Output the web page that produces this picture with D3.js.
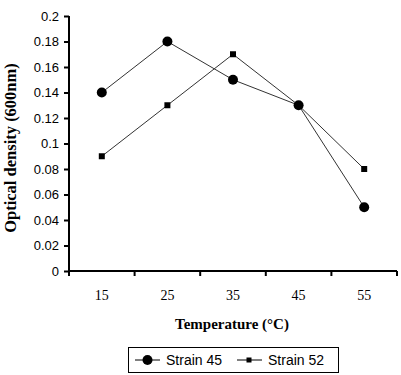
<!DOCTYPE html>
<html>
<head>
<meta charset="utf-8">
<script src="https://cdn.jsdelivr.net/npm/d3@7"></script>
<style>
body { margin: 0; background: #fff; }
</style>
</head>
<body>
<div id="chart"></div>
<script>
var width = 401;
var height = 375;

var temperatures = ['15', '25', '35', '45', '55'];
var strain45 = [0.14, 0.18, 0.15, 0.13, 0.05];
var strain52 = [0.09, 0.13, 0.17, 0.13, 0.08];
var yTicks = [0, 0.02, 0.04, 0.06, 0.08, 0.1, 0.12, 0.14, 0.16, 0.18, 0.2];

// plot area edges (note: "top" is reserved on window, so use other names)
var plotLeft = 69, plotRight = 397, plotTop = 16, plotBottom = 271;

var svg = d3.select('#chart').append('svg')
	.attr('width', width)
	.attr('height', height)

var x = d3.scaleBand().domain(temperatures).range([plotLeft, plotRight]);
var y = d3.scaleLinear().domain([0, 0.2]).range([plotBottom, plotTop]);

// y axis
var yAxis = svg.append('g')
	.attr('transform', 'translate(' + plotLeft + ',0)')
	.call(d3.axisLeft(y).tickValues(yTicks).tickSize(5).tickPadding(5).tickFormat(function(d){ return String(+d.toFixed(2)); }));
yAxis.select('.domain').attr('stroke', '#000').attr('stroke-width', 2).attr('d', 'M0,' + plotTop + 'V' + plotBottom);
yAxis.selectAll('.tick line').attr('stroke', '#000').attr('stroke-width', 2);
yAxis.selectAll('text').attr('font-family', 'Liberation Sans, Arial, sans-serif').attr('font-size', 13).attr('fill', '#000');

// x axis, ticks between categories
var xg = svg.append('g').attr('transform', 'translate(0,' + plotBottom + ')');
xg.append('line').attr('x1', plotLeft).attr('x2', plotRight).attr('stroke', '#000').attr('stroke-width', 2);
var edges = temperatures.map(function(t){ return x(t); }).concat([x.range()[1]]);
xg.selectAll('.xt').data(edges).enter().append('line')
	.attr('x1', function(d){ return d; }).attr('x2', function(d){ return d; })
	.attr('y1', 0).attr('y2', 5)
	.attr('stroke', '#000').attr('stroke-width', 2);
xg.selectAll('.xl').data(temperatures).enter().append('text')
	.attr('x', function(d){ return x(d) + x.bandwidth() / 2; })
	.attr('y', 29)
	.attr('text-anchor', 'middle')
	.attr('font-family', 'Liberation Serif, Times New Roman, serif')
	.attr('font-size', 14)
	.text(function(d){ return d; });

// titles
svg.append('text')
	.attr('x', 232).attr('y', 329)
	.attr('text-anchor', 'middle')
	.attr('font-family', 'Liberation Serif, Times New Roman, serif')
	.attr('font-weight', 'bold')
	.attr('font-size', 15)
	.text('Temperature (°C)');

svg.append('text')
	.attr('transform', 'translate(16,148) rotate(-90)')
	.attr('text-anchor', 'middle')
	.attr('font-family', 'Liberation Serif, Times New Roman, serif')
	.attr('font-weight', 'bold')
	.attr('font-size', 16.5)
	.text('Optical density (600nm)');

var cx = function(d, i){ return x(temperatures[i]) + x.bandwidth() / 2; };
var line = d3.line().x(cx).y(function(d){ return y(d); });

svg.append('path').datum(strain52).attr('d', line)
	.attr('fill', 'none').attr('stroke', '#333').attr('stroke-width', 1);
svg.append('path').datum(strain45).attr('d', line)
	.attr('fill', 'none').attr('stroke', '#333').attr('stroke-width', 1);

svg.selectAll('.sq').data(strain52).enter().append('rect')
	.attr('x', function(d, i){ return cx(d, i) - 3; })
	.attr('y', function(d){ return y(d) - 3; })
	.attr('width', 6).attr('height', 6)
	.attr('fill', '#000');

svg.selectAll('.circ').data(strain45).enter().append('circle')
	.attr('cx', cx)
	.attr('cy', function(d){ return y(d); })
	.attr('r', 5)
	.attr('fill', '#000');

// legend
var lg = svg.append('g');
lg.append('rect').attr('x', 128.5).attr('y', 347.5).attr('width', 210).attr('height', 25)
	.attr('fill', 'none').attr('stroke', '#000').attr('stroke-width', 1);
lg.append('line').attr('x1', 135).attr('x2', 160).attr('y1', 360).attr('y2', 360).attr('stroke', '#000');
lg.append('circle').attr('cx', 147.5).attr('cy', 360).attr('r', 5).attr('fill', '#000');
lg.append('text').attr('x', 166).attr('y', 365).attr('font-family', 'Liberation Sans, Arial, sans-serif').attr('font-size', 14).text('Strain 45');
lg.append('line').attr('x1', 237).attr('x2', 262).attr('y1', 360).attr('y2', 360).attr('stroke', '#000');
lg.append('rect').attr('x', 246.5).attr('y', 357.5).attr('width', 5).attr('height', 5).attr('fill', '#000');
lg.append('text').attr('x', 268).attr('y', 365).attr('font-family', 'Liberation Sans, Arial, sans-serif').attr('font-size', 14).text('Strain 52');
</script>
</body>
</html>
